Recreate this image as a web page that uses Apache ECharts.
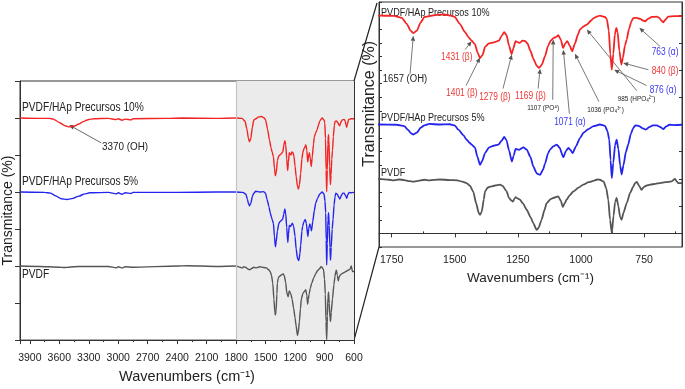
<!DOCTYPE html>
<html>
<head>
<meta charset="utf-8">
<script src="https://cdn.jsdelivr.net/npm/echarts@6/dist/echarts.min.js"></script>
<style>
html, body { margin: 0; padding: 0; background: #fff; }
#chart { width: 685px; height: 389px; }
</style>
</head>
<body>
<div id="chart"></div>
<script>
// spectra: [wavenumber (cm-1), depth of the band below the baseline]
const pvdfHap10 = [
  [4000,0],[3800,0.01],[3700,0.01],[3660,0.03],[3600,0.12],[3540,0.21],[3500,0.24],[3450,0.22],
  [3400,0.16],[3350,0.09],[3300,0.04],[3250,0.02],[3100,0.01],[3020,0.04],[3000,0.02],[2960,0.06],
  [2930,0.03],[2870,0.05],[2850,0.02],[2500,0.01],[2350,0],[2000,0.01],[1800,0],[1740,0.01],
  [1710,0.08],[1690,0.30],[1675,0.55],[1664,0.64],[1650,0.55],[1635,0.25],[1620,0.05],[1600,0.02],
  [1570,-0.03],[1540,-0.04],[1515,0],[1500,0.05],[1480,0.30],[1460,0.60],[1445,0.80],[1433,0.92],[1420,1.05],
  [1410,1.35],[1400,1.56],[1390,1.45],[1380,1.15],[1365,1.02],[1345,0.98],[1325,0.92],[1315,0.75],
  [1304,0.61],[1295,0.72],[1285,1.10],[1275,1.42],[1268,1.20],[1259,0.94],[1250,0.98],[1242,1.00],
  [1232,0.92],[1222,0.93],[1212,1.02],[1200,1.30],[1189,1.58],[1175,1.85],[1166,1.92],[1155,1.80],
  [1143,1.50],[1130,1.10],[1120,0.92],[1108,0.82],[1098,0.78],[1090,0.72],[1080,0.88],[1071,1.19],
  [1062,1.02],[1054,0.94],[1045,1.10],[1035,1.31],[1025,1.05],[1012,0.70],[1004,0.51],[990,0.40],
  [977,0.33],[960,0.18],[950,0.09],[935,0.03],[925,0],[905,0.05],[898,0.12],[890,0.55],
  [884,1.40],[878,1.99],[872,1.40],[866,0.70],[860,0.45],[855,0.60],[848,1.30],[840,1.80],
  [834,1.55],[826,1.10],[819,0.88],[810,0.50],[800,0.20],[793,0.09],[780,0.08],[765,0.12],
  [755,0.18],[746,0.21],[735,0.12],[720,0.05],[700,0.04],[690,0.08],[682,0.18],[674,0.25],
  [666,0.15],[655,0.04],[630,0.02],[600,0.02]
];
const pvdfHap5 = [
  [4000,0],[3750,0.01],[3690,0.03],[3640,0.10],[3580,0.18],[3520,0.20],[3460,0.17],[3400,0.11],
  [3340,0.05],[3290,0.02],[3100,0.01],[3020,0.05],[3000,0.02],[2960,0.06],[2930,0.02],[2870,0.04],
  [2850,0.01],[2400,0.01],[2000,0],[1800,0],[1730,0.01],[1700,0.06],[1685,0.20],[1672,0.33],
  [1664,0.37],[1650,0.30],[1635,0.12],[1620,0.03],[1600,-0.02],[1560,0],[1520,-0.01],[1500,0.03],
  [1486,0.19],[1465,0.40],[1453,0.56],[1440,0.68],[1433,0.74],[1420,0.85],[1410,1.20],[1400,1.48],
  [1392,1.35],[1380,1.05],[1365,0.85],[1354,0.80],[1327,0.74],[1315,0.60],[1304,0.46],[1295,0.58],
  [1285,0.95],[1274,1.36],[1267,1.15],[1259,0.90],[1245,0.93],[1228,0.84],[1215,0.92],[1200,1.20],
  [1189,1.54],[1175,1.80],[1162,1.85],[1150,1.65],[1143,1.45],[1130,1.05],[1123,0.93],[1110,0.80],
  [1096,0.74],[1085,0.85],[1070,1.20],[1060,0.98],[1050,0.86],[1042,0.93],[1033,1.05],[1020,0.80],
  [1004,0.50],[990,0.30],[971,0.17],[950,0.06],[925,0],[905,0.05],[895,0.25],[888,0.56],
  [883,1.30],[878,1.97],[872,1.40],[865,0.75],[859,0.56],[852,0.90],[845,1.50],[839,1.84],
  [832,1.50],[822,1.00],[813,0.74],[803,0.35],[793,0.13],[785,0.03],[770,0.06],[755,0.14],
  [743,0.19],[730,0.10],[715,0.03],[700,0.03],[685,0.10],[674,0.17],[664,0.08],[650,0.01],
  [630,0.02],[600,0.01]
];
const pvdf = [
  [4000,0],[3800,0.01],[3600,0.03],[3550,0.04],[3500,0.03],[3400,0.01],[3100,0.01],[3020,0.05],
  [3000,0.02],[2960,0.05],[2930,0.02],[2850,0.03],[2400,0],[2300,-0.01],[2000,0.01],[1800,0],
  [1760,0.03],[1740,0.05],[1720,0.02],[1700,0.04],[1680,0.08],[1664,0.10],[1650,0.08],[1620,0.03],
  [1600,0.05],[1560,0.02],[1520,0.04],[1490,0.05],[1470,0.10],[1453,0.15],[1440,0.25],[1427,0.46],
  [1415,0.90],[1405,1.25],[1400,1.32],[1393,1.20],[1385,0.75],[1380,0.46],[1370,0.32],[1360,0.28],
  [1340,0.24],[1321,0.21],[1310,0.26],[1295,0.45],[1285,0.70],[1275,0.80],[1270,0.83],[1263,0.72],
  [1259,0.67],[1250,0.72],[1242,0.76],[1230,0.90],[1215,1.13],[1200,1.40],[1189,1.62],[1176,1.87],
  [1168,1.80],[1156,1.50],[1145,1.15],[1136,0.89],[1120,0.74],[1110,0.70],[1090,0.64],[1080,0.80],
  [1072,1.03],[1065,0.90],[1057,0.76],[1045,0.60],[1030,0.46],[1010,0.32],[991,0.21],[970,0.12],
  [951,0.07],[935,0.02],[925,0.03],[910,0.10],[900,0.35],[892,0.76],[885,1.50],[878,1.99],
  [871,1.35],[865,0.85],[859,0.70],[852,1.00],[845,1.40],[839,1.50],[832,1.25],[819,0.89],
  [805,0.50],[793,0.28],[786,0.15],[779,0.11],[770,0.25],[760,0.40],[752,0.30],[740,0.24],
  [726,0.21],[705,0.18],[687,0.15],[665,0.12],[641,0.09],[628,0],[620,0.10],[615,0.15],[600,0.15]
];

const spectra = [pvdfHap10, pvdfHap5, pvdf];
const spectraNames = ['PVDF/HAp Precursos 10%', 'PVDF/HAp Precursos 5%', 'PVDF'];
const colors = ['#f22424', '#2424ee', '#555555'];
const leftOffsets = [6, 4, 2];
const rightOffsets = [8, 4, 2];

const leftTicks = [600, 900, 1200, 1500, 1800, 2100, 2400, 2700, 3000, 3300, 3600, 3900];
const rightTicks = [750, 1000, 1250, 1500, 1750];
const rightMinor = [625, 875, 1125, 1375, 1625];

// band assignments: text, colour key, text at, arrow from, arrow to (wavenumber, y units)
const leftNotes = [
  ['3370 (OH)', 'k', [2931, 5.22], [3175, 5.33], [3498, 5.81]]
];
const rightNotes = [
  ['1657 (OH)', 'k', [1697, 5.65], [1677, 5.86], [1664, 7.26]],
  ['1431 (β)', 'r', [1492, 6.49], [1459, 6.75], [1433, 7.06]],
  ['1401 (β)', 'r', [1472, 5.17], [1455, 5.43], [1400, 6.46]],
  ['1279 (β)', 'r', [1341, 5.02], [1309, 5.32], [1274, 6.57]],
  ['1169 (β)', 'r', [1200, 5.06], [1170, 5.32], [1162, 6.05]],
  ['1107 (PO⁴)', 's', [1150, 4.62], [1112, 4.91], [1110, 7.12]],
  ['1071 (α)', 'b', [1044, 4.10], [1046, 4.40], [1070, 6.75]],
  ['1036 (PO₄³⁻)', 's', [903, 4.54], [929, 4.84], [1024, 6.60]],
  ['985 (HPO₄²⁻)', 's', [780, 4.95], [779, 5.24], [977, 7.49]],
  ['876 (α)', 'b', [675, 5.28], [740, 5.43], [869, 6.01]],
  ['840 (β)', 'r', [667, 5.95], [733, 6.01], [833, 6.26]],
  ['763 (α)', 'b', [667, 6.65], [687, 6.87], [769, 7.55]]
];

const FN = "'Liberation Sans',Arial,sans-serif";
const AX = '#333';
const noteColor = { k: '#222', s: '#222', r: '#ee3636', b: '#3a3aee' };
const noteFont = { k: '10px', s: '8px', r: '10.5px', b: '10.5px' };
const noteScale = { k: 0.95, s: 0.8, r: 0.8, b: 0.8 };

const chart = echarts.init(document.getElementById('chart'));

const series = [{
  // zoomed region shading
  type: 'line', xAxisIndex: 0, yAxisIndex: 0, data: [], z: -1, silent: true,
  markArea: { silent: true, itemStyle: { color: '#ebebeb', borderWidth: 0 },
    data: [[{ xAxis: 1800 }, { xAxis: 600 }]] },
  markLine: { silent: true, symbol: 'none', label: { show: false },
    lineStyle: { color: '#c4c4c4', type: 'solid', width: 1.2 }, data: [{ xAxis: 1800 }] }
}];
spectra.forEach((s, i) => {
  series.push({
    name: spectraNames[i], type: 'line', xAxisIndex: 0, yAxisIndex: 0,
    data: s.map(p => [p[0], leftOffsets[i] - p[1]]),
    showSymbol: false, smooth: 0.2, smoothMonotone: 'x',
    lineStyle: { color: colors[i], width: 1.4 }
  });
});
spectra.forEach((s, i) => {
  series.push({
    name: spectraNames[i], type: 'line', xAxisIndex: 1, yAxisIndex: 2,
    data: s.map(p => [p[0], rightOffsets[i] - p[1]]),
    showSymbol: false, smooth: 0.2, smoothMonotone: 'x',
    lineStyle: { color: colors[i], width: 1.8 }
  });
});

const line = { lineStyle: { color: AX, width: 1 } };
const plain = v => '' + v;
chart.setOption({
  animation: false,
  grid: [
    { left: 19, top: 81, width: 335, height: 267, show: true, borderColor: AX, borderWidth: 1 },
    { left: 379, top: 2, width: 303, height: 245, show: true, borderColor: AX, borderWidth: 1 }
  ],
  xAxis: [
    { gridIndex: 0, type: 'value', inverse: true, min: 600, max: 4000, interval: 300,
      axisLine: line, axisTick: { length: 4, lineStyle: { color: AX } },
      minorTick: { show: true, splitNumber: 2, length: 2, lineStyle: { color: AX } },
      axisLabel: { customValues: leftTicks, formatter: plain, fontFamily: FN, fontSize: 10.5, color: '#222', margin: 13 },
      splitLine: { show: false },
      name: 'Wavenumbers (cm⁻¹)', nameLocation: 'middle', nameGap: 27,
      nameTextStyle: { fontFamily: FN, fontSize: 14.5, color: '#222' } },
    { gridIndex: 1, type: 'value', inverse: true, min: 600, max: 1800,
      axisLine: line, axisTick: { customValues: rightTicks, length: 4, lineStyle: { color: AX } },
      axisLabel: { customValues: rightTicks, formatter: plain, fontFamily: FN, fontSize: 10.5, color: '#222', margin: 8 },
      splitLine: { show: false },
      name: 'Wavenumbers (cm⁻¹)', nameLocation: 'middle', nameGap: 21,
      nameTextStyle: { fontFamily: FN, fontSize: 13.5, color: '#222' } },
    { gridIndex: 1, type: 'value', inverse: true, min: 600, max: 1800,
      axisLine: { show: false }, axisLabel: { show: false }, splitLine: { show: false },
      axisTick: { customValues: rightMinor, length: 2, lineStyle: { color: AX } } }
  ],
  yAxis: [
    { gridIndex: 0, type: 'value', min: 0, max: 7, interval: 1,
      axisLine: { show: true, lineStyle: { color: AX } },
      axisTick: { show: true, length: 5, lineStyle: { color: AX } },
      axisLabel: { show: false }, splitLine: { show: false },
      name: 'Transmitance (%)', nameLocation: 'middle', nameGap: 5,
      nameTextStyle: { fontFamily: FN, fontSize: 14, color: '#222' } },
    { gridIndex: 0, type: 'value', position: 'right', min: 0, max: 7, interval: 1,
      axisLine: { show: true, lineStyle: { color: AX } },
      axisTick: { show: true, inside: true, length: 3, lineStyle: { color: AX } },
      axisLabel: { show: false }, splitLine: { show: false } },
    { gridIndex: 1, type: 'value', min: -0.5, max: 8.5, interval: 0.5,
      axisLine: { show: true, lineStyle: { color: AX } },
      axisTick: { show: true, inside: true, length: 3, lineStyle: { color: AX } },
      axisLabel: { show: false }, splitLine: { show: false } },
    { gridIndex: 1, type: 'value', position: 'right', min: -0.5, max: 8.5, interval: 0.5,
      axisLine: { show: true, lineStyle: { color: AX } },
      axisTick: { show: true, inside: true, length: 3, customValues: [0, 1, 2, 3, 4, 5, 6, 7, 8],
        lineStyle: { color: AX } },
      axisLabel: { show: false }, splitLine: { show: false } }
  ],
  series: series
});

// overlays placed through the library's own coordinate conversion
const toL = p => chart.convertToPixel({ seriesIndex: 1 }, p);
const toR = p => chart.convertToPixel({ seriesIndex: 4 }, p);
const g = [];

function text(str, p, font, fill, align, sx) {
  return { type: 'text', x: p[0], y: p[1], scaleX: sx || 1, silent: true,
    style: { text: str, font: font, fill: fill, align: align || 'center', verticalAlign: 'middle' } };
}
function arrow(a, b, color) {
  const dx = b[0] - a[0], dy = b[1] - a[1], L = Math.hypot(dx, dy);
  const ux = dx / L, uy = dy / L, h = 5, w = 2.2;
  const bx = b[0] - ux * h, by = b[1] - uy * h;
  g.push({ type: 'line', silent: true, shape: { x1: a[0], y1: a[1], x2: bx, y2: by },
    style: { stroke: color, lineWidth: 0.8 } });
  g.push({ type: 'polygon', silent: true,
    shape: { points: [[b[0], b[1]], [bx - uy * w, by + ux * w], [bx + uy * w, by - ux * w]] },
    style: { fill: color } });
}

const leftLabelAt = [[3980, 6.29], [3980, 4.28], [3980, 1.76]];
const rightLabelAt = [[1792, 8.10], [1792, 4.25], [1792, 2.23]];
spectraNames.forEach((n, i) => {
  g.push(text(n, toL(leftLabelAt[i]), '12px ' + FN, '#222', 'left', 0.85));
  g.push(text(n, toR(rightLabelAt[i]), '11.5px ' + FN, '#222', 'left', 0.79));
});

leftNotes.forEach(n => {
  arrow(toL(n[3]), toL(n[4]), '#444');
  g.push(text(n[0], toL(n[2]), '11px ' + FN, '#222', 'center', 0.9));
});
rightNotes.forEach(n => {
  arrow(toR(n[3]), toR(n[4]), '#555');
  g.push(text(n[0], toR(n[2]), noteFont[n[1]] + ' ' + FN, noteColor[n[1]], 'center', noteScale[n[1]]));
});

// zoom connector lines and right panel y name
const lTop = toL([600, 7]), lBot = toL([600, 0]);
const rTop = toR([1800, 8.5]), rBot = toR([1800, -0.5]);
g.push({ type: 'line', silent: true, shape: { x1: lTop[0], y1: lTop[1], x2: rTop[0] - 2, y2: rTop[1] + 1 },
  style: { stroke: '#222', lineWidth: 1.2 } });
g.push({ type: 'line', silent: true, shape: { x1: lBot[0], y1: lBot[1], x2: rBot[0], y2: rBot[1] },
  style: { stroke: '#222', lineWidth: 1.2 } });
const yn = toR([1800, 4.76]);
g.push({ type: 'text', x: yn[0] - 9, y: yn[1], rotation: Math.PI / 2, silent: true,
  style: { text: 'Transmitance (%)', font: '16px ' + FN, fill: '#222', align: 'center', verticalAlign: 'middle' } });

chart.setOption({ graphic: g });
</script>
</body>
</html>
